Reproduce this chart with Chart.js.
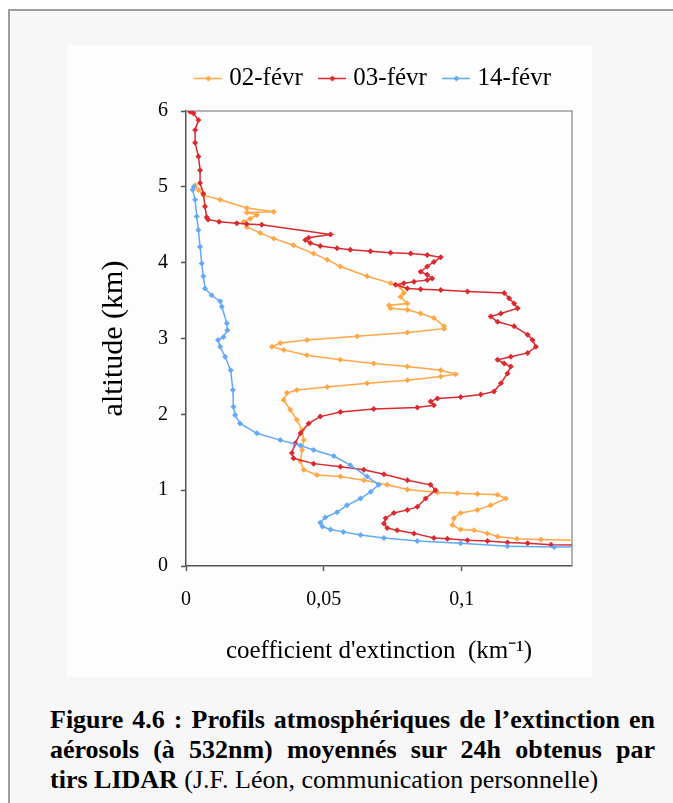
<!DOCTYPE html>
<html><head><meta charset="utf-8">
<script src="https://cdn.jsdelivr.net/npm/chart.js@4"></script>
<style>
html,body{margin:0;padding:0;background:#fff;}
body{width:673px;height:803px;position:relative;overflow:hidden;font-family:"Liberation Serif","Times New Roman",serif;}
#frame{position:absolute;left:8px;top:9px;width:700px;height:820px;border-left:2px solid #9c9c9c;border-top:2px solid #9c9c9c;background:#f7f7f7;}
#panel{position:absolute;left:67px;top:45px;width:525px;height:632px;background:#fdfdfd;}
#panel canvas{display:block;}
#caption{position:absolute;left:50px;top:705px;width:605px;font-size:26px;line-height:30px;color:#000;}
.j{text-align:justify;text-align-last:justify;white-space:nowrap;}
.l{white-space:nowrap;}
</style></head>
<body>
<div id="frame"></div>
<div id="panel"><canvas id="c" width="525" height="632"></canvas></div>
<div id="caption">
<div class="j"><b>Figure 4.6 : Profils atmosphériques de l’extinction en</b></div>
<div class="j"><b>aérosols (à 532nm) moyennés sur 24h obtenus par</b></div>
<div class="l"><b>tirs LIDAR</b> (J.F. Léon, communication personnelle)</div>
</div>
<script>
// ---- data ----
const seriesLabels = ['02-févr', '03-févr', '14-févr'];

const altitude02 = [0.31,0.35,0.36,0.39,0.43,0.47,0.48,0.54,0.63,0.70,0.74,0.80,0.89,0.94,0.95,0.96,0.97,1.01,1.07,1.13,1.18,1.20,1.27,1.38,1.53,1.66,1.79,1.93,2.06,2.19,2.28,2.32,2.36,2.41,2.45,2.50,2.53,2.58,2.63,2.67,2.72,2.78,2.85,2.89,2.94,2.98,3.03,3.08,3.13,3.16,3.27,3.33,3.38,3.40,3.44,3.46,3.55,3.60,3.68,3.73,3.82,3.95,4.04,4.12,4.23,4.32,4.39,4.47,4.54,4.58,4.63,4.66,4.67,4.72,4.83,4.89,4.96,5.02];
const extinction02 = [0.170,0.1287,0.1200,0.1130,0.1093,0.1045,0.0996,0.0966,0.0972,0.0996,0.1057,0.1105,0.1160,0.1130,0.1057,0.0984,0.0912,0.0803,0.0730,0.0645,0.0560,0.0475,0.0427,0.0415,0.0421,0.0427,0.0421,0.0402,0.0378,0.0354,0.0366,0.0402,0.0512,0.0657,0.0803,0.0924,0.0978,0.0924,0.0803,0.0681,0.0560,0.0439,0.0354,0.0312,0.0342,0.0439,0.0621,0.0803,0.0936,0.0936,0.0899,0.0851,0.0803,0.0742,0.0736,0.0803,0.0778,0.0790,0.0778,0.0742,0.0657,0.0560,0.0512,0.0463,0.0390,0.0318,0.0269,0.0221,0.0208,0.0233,0.0257,0.0221,0.0318,0.0221,0.0124,0.0063,0.0045,0.0033];

const altitude03 = [0.27,0.28,0.30,0.31,0.33,0.34,0.36,0.37,0.43,0.47,0.50,0.56,0.63,0.70,0.74,0.78,0.89,1.00,1.07,1.13,1.21,1.27,1.31,1.35,1.42,1.49,1.62,1.75,1.88,1.97,2.03,2.07,2.09,2.12,2.17,2.21,2.23,2.26,2.30,2.41,2.54,2.63,2.67,2.72,2.76,2.81,2.89,2.98,3.05,3.16,3.22,3.29,3.33,3.40,3.46,3.53,3.60,3.62,3.64,3.65,3.66,3.71,3.73,3.75,3.77,3.79,3.84,3.88,3.95,4.01,4.07,4.10,4.12,4.13,4.15,4.17,4.19,4.22,4.26,4.30,4.33,4.37,4.50,4.51,4.52,4.54,4.57,4.60,4.74,4.91,5.05,5.22,5.40,5.58,5.75,5.88,5.97,5.99];
const extinction03 = [0.170,0.1324,0.1239,0.1166,0.1093,0.1021,0.0948,0.0899,0.0827,0.0766,0.0730,0.0718,0.0724,0.0754,0.0803,0.0839,0.0869,0.0905,0.0887,0.0803,0.0718,0.0645,0.0560,0.0463,0.0390,0.0384,0.0396,0.0415,0.0445,0.0487,0.0560,0.0681,0.0839,0.0899,0.0887,0.0912,0.0996,0.1069,0.1117,0.1142,0.1166,0.1178,0.1154,0.1130,0.1178,0.1239,0.1269,0.1257,0.1239,0.1190,0.1130,0.1105,0.1142,0.1203,0.1190,0.1172,0.1154,0.1021,0.0924,0.0851,0.0803,0.0760,0.0790,0.0827,0.0875,0.0893,0.0875,0.0851,0.0875,0.0899,0.0924,0.0875,0.0815,0.0742,0.0669,0.0596,0.0548,0.0487,0.0451,0.0433,0.0445,0.0524,0.0275,0.0220,0.0184,0.0120,0.0080,0.0075,0.0069,0.0063,0.0051,0.0051,0.0045,0.0033,0.0033,0.0045,0.0027,0.0015];

const altitude14 = [0.26,0.25,0.26,0.30,0.33,0.37,0.41,0.45,0.48,0.52,0.57,0.64,0.71,0.80,0.89,0.98,1.07,1.18,1.33,1.45,1.53,1.59,1.66,1.75,1.88,1.99,2.10,2.32,2.58,2.76,2.89,2.98,3.02,3.11,3.20,3.42,3.49,3.57,3.66,3.82,3.99,4.21,4.43,4.61,4.83,4.96,5.00];
const extinction14 = [0.170,0.1335,0.1166,0.0996,0.0839,0.0718,0.0633,0.0571,0.0524,0.0495,0.0487,0.0505,0.0548,0.0584,0.0633,0.0670,0.0699,0.0657,0.0596,0.0536,0.0463,0.0415,0.0342,0.0257,0.0196,0.0178,0.0172,0.0170,0.0162,0.0142,0.0124,0.0116,0.0136,0.0150,0.0148,0.0130,0.0124,0.0093,0.0069,0.0063,0.0057,0.0051,0.0045,0.0039,0.0033,0.0024,0.0029];

const xTickValues = [0, 0.05, 0.1];
const xTickLabels = ['0', '0,05', '0,1'];
const yTickValues = [0, 1, 2, 3, 4, 5, 6];
const yTickLabels = ['0', '1', '2', '3', '4', '5', '6'];

const colors = ['#FFA645', '#DA2A30', '#63A9F6'];
const FAMILY = '"Liberation Serif", "Times New Roman", serif';

function pts(ext, alt) { return ext.map((x, i) => ({ x: x, y: alt[i] })); }

function legendImage(color) {
  const c = document.createElement('canvas');
  c.width = 28; c.height = 9;
  const g = c.getContext('2d');
  g.strokeStyle = color; g.lineWidth = 1.5;
  g.beginPath(); g.moveTo(0, 4.5); g.lineTo(28, 4.5); g.stroke();
  g.fillStyle = color;
  g.beginPath(); g.moveTo(14, 1.5); g.lineTo(17, 4.5); g.lineTo(14, 7.5); g.lineTo(11, 4.5); g.closePath(); g.fill();
  return c;
}
const legendImages = colors.map(legendImage);

const plotFrame = {
  id: 'plotFrame',
  beforeDatasetsDraw(chart) {
    const { ctx, chartArea: { left, top, right, bottom } } = chart;
    ctx.save();
    ctx.strokeStyle = '#9a9a9a';
    ctx.lineWidth = 1.5;
    ctx.beginPath();
    ctx.moveTo(left, top); ctx.lineTo(right, top); ctx.lineTo(right, bottom);
    ctx.stroke();
    ctx.restore();
  }
};
const legendFit = {
  id: 'legendFit',
  afterInit(chart) {
    const L = chart.legend;
    if (!L) return;
    const f = L.fit.bind(L);
    L.fit = function () { f(); this.height += 10; };
  }
};

function makeDataset(i, ext, alt, order) {
  return {
    label: seriesLabels[i],
    data: pts(ext, alt),
    showLine: true,
    borderColor: colors[i],
    backgroundColor: colors[i],
    borderWidth: 1.5,
    pointStyle: 'rectRot',
    pointRadius: 3,
    pointBorderWidth: 0,
    pointBackgroundColor: colors[i],
    order: order
  };
}

new Chart(document.getElementById('c'), {
  type: 'scatter',
  data: {
    datasets: [
      makeDataset(0, extinction02, altitude02, 3),
      makeDataset(1, extinction03, altitude03, 2),
      makeDataset(2, extinction14, altitude14, 1)
    ]
  },
  options: {
    responsive: false,
    animation: false,
    events: [],
    layout: { autoPadding: false, padding: { top: 0, left: 0, right: 20, bottom: 0 } },
    plugins: {
      tooltip: { enabled: false },
      legend: {
        position: 'top',
        align: 'end',
        labels: {
          usePointStyle: true,
          pointStyleWidth: 17,
          padding: 21,
          color: '#000',
          font: { family: FAMILY, size: 25 },
          generateLabels(chart) {
            return chart.data.datasets.map((ds, i) => ({
              text: ds.label,
              pointStyle: legendImages[i],
              fillStyle: ds.borderColor,
              strokeStyle: ds.borderColor,
              lineWidth: 0,
              hidden: false,
              datasetIndex: i,
              fontColor: '#000'
            }));
          }
        }
      }
    },
    scales: {
      x: {
        type: 'linear',
        position: 'bottom',
        min: 0,
        max: 0.14,
        afterBuildTicks(s) { s.ticks = xTickValues.map(v => ({ value: v })); },
        afterFit(s) { s.height = 111; },
        ticks: {
          autoSkip: false, maxRotation: 0, padding: 17, color: '#000',
          font: { family: FAMILY, size: 20 },
          callback: (v, i) => xTickLabels[i]
        },
        grid: { display: true, drawOnChartArea: false, drawTicks: true, tickLength: 5, tickColor: '#555', tickWidth: 1.5 },
        border: { display: true, color: '#555', width: 1.5 },
        title: {
          display: true,
          text: 'coefficient d\'extinction  (km\u207B\u00B9)',
          color: '#000',
          font: { family: FAMILY, size: 25 },
          padding: { top: 0, bottom: 11 }
        }
      },
      y: {
        type: 'linear',
        position: 'left',
        min: 0,
        max: 6,
        afterBuildTicks(s) { s.ticks = yTickValues.map(v => ({ value: v })); },
        afterFit(s) { s.width = 119; },
        ticks: {
          autoSkip: false, padding: 13, color: '#000',
          font: { family: FAMILY, size: 20 },
          callback: (v, i) => yTickLabels[i]
        },
        grid: { display: true, drawOnChartArea: false, drawTicks: true, tickLength: 5, tickColor: '#555', tickWidth: 1.5 },
        border: { display: true, color: '#555', width: 1.5 },
        title: {
          display: true,
          text: 'altitude (km)',
          color: '#000',
          font: { family: FAMILY, size: 30 },
          padding: { top: 29, bottom: 0 }
        }
      }
    }
  },
  plugins: [plotFrame, legendFit]
});
</script>
</body></html>
